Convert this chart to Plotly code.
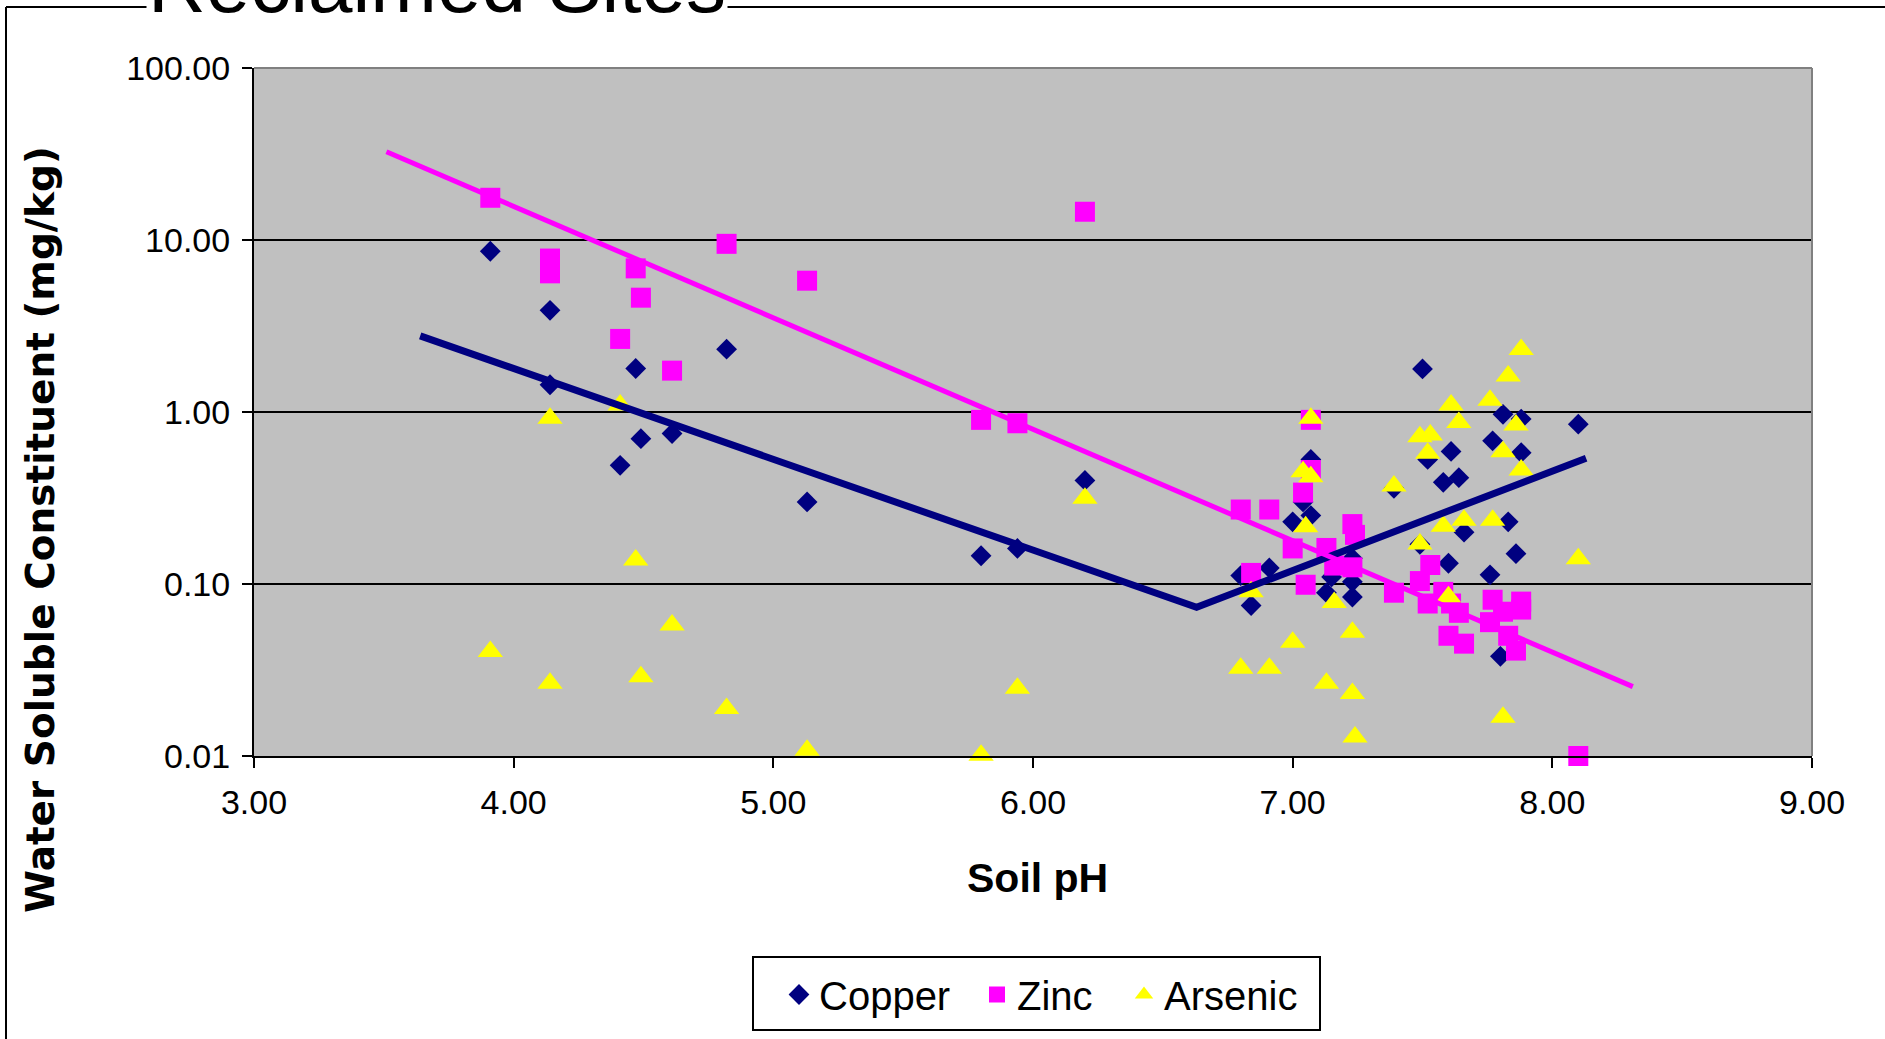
import plotly.graph_objects as go

# ---------------- data ----------------
copper_ph = [3.91, 4.14, 4.14, 4.41, 4.47, 4.49, 4.61, 4.82, 5.13, 5.80, 5.94, 6.20,
             6.80, 6.84, 6.91, 7.00, 7.04, 7.07, 7.07, 7.13, 7.15, 7.23, 7.23, 7.23,
             7.39, 7.49, 7.50, 7.52, 7.58, 7.61, 7.64, 7.60, 7.66, 7.76, 7.77, 7.81,
             7.83, 7.80, 7.86, 7.88, 7.88, 8.10]
copper_val = [8.6, 3.9, 1.44, 0.49, 1.79, 0.70, 0.75, 2.32, 0.30, 0.146, 0.161, 0.40,
              0.112, 0.075, 0.124, 0.23, 0.30, 0.53, 0.25, 0.089, 0.11, 0.084, 0.103, 0.141,
              0.36, 0.17, 1.78, 0.53, 0.39, 0.59, 0.415, 0.132, 0.20, 0.113, 0.68, 0.97,
              0.23, 0.038, 0.15, 0.91, 0.58, 0.85]

zinc_ph = [3.91, 4.14, 4.14, 4.41, 4.47, 4.49, 4.61, 4.82, 5.13, 5.80, 5.94, 6.20,
           6.80, 6.84, 6.91, 7.00, 7.04, 7.05, 7.07, 7.07, 7.13, 7.16, 7.23, 7.24, 7.23,
           7.39, 7.49, 7.53, 7.52, 7.58, 7.61, 7.64, 7.60, 7.66, 7.77, 7.76, 7.81,
           7.83, 7.86, 7.88, 7.88, 8.10]
zinc_val = [17.6, 7.8, 6.4, 2.66, 6.84, 4.62, 1.74, 9.5, 5.8, 0.90, 0.86, 14.6,
            0.271, 0.116, 0.271, 0.161, 0.34, 0.099, 0.46, 0.90, 0.162, 0.128, 0.223, 0.193, 0.125,
            0.089, 0.104, 0.129, 0.077, 0.090, 0.077, 0.068, 0.050, 0.045, 0.081, 0.060, 0.069,
            0.050, 0.041, 0.079, 0.071, 0.010]

arsenic_ph = [3.91, 4.14, 4.14, 4.41, 4.47, 4.49, 4.61, 4.82, 5.13, 5.80, 5.94, 6.20,
              6.80, 6.84, 6.91, 7.00, 7.04, 7.05, 7.07, 7.07, 7.13, 7.16, 7.23, 7.23, 7.24,
              7.39, 7.49, 7.49, 7.52, 7.53, 7.58, 7.60, 7.61, 7.64, 7.66, 7.76, 7.77,
              7.81, 7.81, 7.83, 7.86, 7.88, 7.88, 8.10]
arsenic_val = [0.0405, 0.92, 0.0265, 1.10, 0.138, 0.0289, 0.0578, 0.0189, 0.0108, 0.0101, 0.0248, 0.315,
               0.0324, 0.090, 0.0324, 0.0458, 0.45, 0.215, 0.92, 0.42, 0.0265, 0.078, 0.0524, 0.0231, 0.0129,
               0.371, 0.171, 0.718, 0.575, 0.734, 0.217, 0.0843, 1.10, 0.868, 0.235, 1.17, 0.235,
               0.588, 0.0168, 1.62, 0.84, 2.31, 0.46, 0.14]

# trend lines (end / break points)
copper_trend_ph = [3.64, 6.63, 8.13]
copper_trend_val = [2.77, 0.0733, 0.538]
zinc_trend_ph = [3.51, 8.31]
zinc_trend_val = [32.6, 0.0253]

x_ticks = [3, 4, 5, 6, 7, 8, 9]
x_tick_text = ["3.00", "4.00", "5.00", "6.00", "7.00", "8.00", "9.00"]
y_ticks = [0.01, 0.1, 1, 10, 100]
y_tick_text = ["0.01", "0.10", "1.00", "10.00", "100.00"]

title_text = "Reclaimed Sites"
x_title = "Soil pH"
y_title = "Water Soluble Constituent (mg/kg)"

# ---------------- figure ----------------
SANS = "Liberation Sans, Arial, sans-serif"
W, H = 1885, 1039
L, R, T, B = 254, 73, 68, 283
PW, PH = W - L - R, H - T - B


def px_x(p):
    return (p - L) / PW


def px_y(p):
    return 1 - (p - T) / PH


fig = go.Figure()
fig.add_trace(go.Scatter(x=copper_ph, y=copper_val, mode="markers", name="Copper",
                         cliponaxis=False, legend="legend",
                         marker=dict(symbol="diamond", size=16, color="#000080",
                                     line=dict(width=0))))
fig.add_trace(go.Scatter(x=zinc_ph, y=zinc_val, mode="markers", name="Zinc",
                         cliponaxis=False, legend="legend2",
                         marker=dict(symbol="square", size=20, color="#FF00FF",
                                     line=dict(width=0))))
fig.add_trace(go.Scatter(x=arsenic_ph, y=arsenic_val, mode="markers", name="Arsenic",
                         cliponaxis=False, legend="legend3",
                         marker=dict(symbol="triangle-up", size=22, color="#FFFF00",
                                     line=dict(width=0))))
fig.add_trace(go.Scatter(x=copper_trend_ph, y=copper_trend_val, mode="lines",
                         showlegend=False, hoverinfo="skip",
                         line=dict(color="#000080", width=7)))
fig.add_trace(go.Scatter(x=zinc_trend_ph, y=zinc_trend_val, mode="lines",
                         showlegend=False, hoverinfo="skip",
                         line=dict(color="#FF00FF", width=5)))


def legend_at(marker_center_px):
    return dict(orientation="h", x=px_x(marker_center_px - 21), y=px_y(962),
                xanchor="left", yanchor="top",
                bgcolor="rgba(0,0,0,0)", borderwidth=0,
                font=dict(family=SANS, size=40, color="black"),
                itemsizing="trace", itemwidth=30)


fig.update_layout(
    width=W, height=H,
    margin=dict(l=L, r=R, t=T, b=B, autoexpand=False),
    paper_bgcolor="white",
    plot_bgcolor="#C0C0C0",
    font=dict(family=SANS, color="black"),
    showlegend=True,
    legend=legend_at(800),
    legend2=legend_at(998),
    legend3=legend_at(1145),
)

fig.update_xaxes(type="linear", range=[3, 9], tickvals=x_ticks, ticktext=x_tick_text,
                 showgrid=False, zeroline=False,
                 showline=True, linecolor="black", linewidth=2,
                 ticks="outside", ticklen=10, tickwidth=2, tickcolor="black",
                 ticklabelstandoff=5,
                 tickfont=dict(family=SANS, size=34, color="black"))
fig.update_yaxes(type="log", range=[-2, 2], tickvals=y_ticks, ticktext=y_tick_text,
                 showgrid=True, gridcolor="black", gridwidth=2, zeroline=False,
                 showline=True, linecolor="black", linewidth=2,
                 ticks="outside", ticklen=10, tickwidth=2, tickcolor="black",
                 ticklabelstandoff=5,
                 tickfont=dict(family=SANS, size=34, color="black"))

# legend box
fig.add_shape(type="rect", xref="paper", yref="paper",
              x0=px_x(753), x1=px_x(1320), y0=px_y(957), y1=px_y(1030),
              line=dict(color="black", width=2), fillcolor="white", layer="below")
# plot-area top/right border (gray)
fig.add_shape(type="line", xref="paper", yref="paper", x0=0, x1=1, y0=1, y1=1,
              line=dict(color="#808080", width=2), layer="above")
fig.add_shape(type="line", xref="paper", yref="paper", x0=1, x1=1, y0=0, y1=1,
              line=dict(color="#808080", width=2), layer="above")
# chart-area outer border (left and top visible)
fig.add_shape(type="line", xref="paper", yref="paper", x0=px_x(6), x1=px_x(6),
              y0=px_y(7), y1=px_y(1060), line=dict(color="black", width=2))
fig.add_shape(type="line", xref="paper", yref="paper", x0=px_x(6), x1=px_x(1900),
              y0=px_y(7), y1=px_y(7), line=dict(color="black", width=2))

# title (mostly cut off at top)
fig.add_annotation(text=title_text, xref="paper", yref="paper",
                   x=px_x(437), y=px_y(31), xanchor="center", yanchor="bottom",
                   showarrow=False, bgcolor="white",
                   font=dict(family=SANS, size=80, color="black"))
# axis titles
fig.add_annotation(text="<b>" + x_title + "</b>", xref="paper", yref="paper",
                   x=px_x(1037), y=px_y(878), xanchor="center", yanchor="middle",
                   showarrow=False, font=dict(family=SANS, size=41, color="black"))
fig.add_annotation(text="<b>" + y_title + "</b>", xref="paper", yref="paper",
                   x=px_x(40), y=px_y(530), xanchor="center", yanchor="middle",
                   textangle=-90, showarrow=False,
                   font=dict(family="DejaVu Sans", size=39, color="black"))

fig.write_html("out.html", config={"displayModeBar": False},
               post_script="document.body.style.margin='0';")
